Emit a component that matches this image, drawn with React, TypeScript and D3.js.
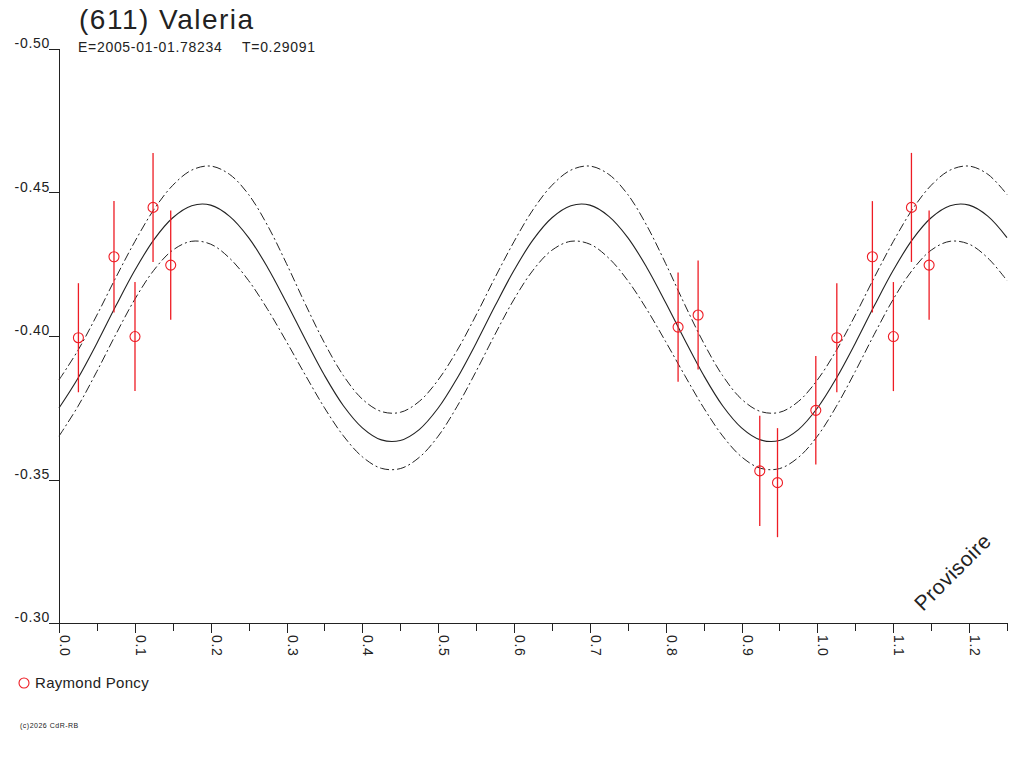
import * as d3 from 'd3';

const W = 1024;
const H = 768;

// rotational phase samples of the fitted curve
const phases = [
  0, 0.025, 0.05, 0.075, 0.1, 0.125, 0.15, 0.175, 0.2, 0.225,
  0.25, 0.275, 0.3, 0.325, 0.35, 0.375, 0.4, 0.425, 0.45, 0.475,
  0.5, 0.525, 0.55, 0.575, 0.6, 0.625, 0.65, 0.675, 0.7, 0.725,
  0.75, 0.775, 0.8, 0.825, 0.85, 0.875, 0.9, 0.925, 0.95, 0.975,
  1.0, 1.025, 1.05, 1.075, 1.1, 1.125, 1.15, 1.175, 1.2, 1.225, 1.25,
];

// fitted relative magnitude (solid line)
const fitMag = [
  -0.3749, -0.3853, -0.3975, -0.4105, -0.4229, -0.4335, -0.4412, -0.4454, -0.4456, -0.4417,
  -0.4343, -0.4239, -0.4116, -0.3987, -0.3863, -0.3757, -0.3680, -0.3638, -0.3636, -0.3674,
  -0.3749, -0.3853, -0.3975, -0.4105, -0.4229, -0.4335, -0.4412, -0.4454, -0.4456, -0.4417,
  -0.4343, -0.4239, -0.4116, -0.3987, -0.3863, -0.3757, -0.3680, -0.3638, -0.3636, -0.3674,
  -0.3749, -0.3853, -0.3975, -0.4105, -0.4229, -0.4335, -0.4412, -0.4454, -0.4456, -0.4417, -0.4343,
];

// upper / lower envelope (dash-dot lines)
const fitUpper = [
  -0.3847, -0.3950, -0.4073, -0.4204, -0.4329, -0.4440, -0.4525, -0.4578, -0.4592, -0.4563,
  -0.4493, -0.4385, -0.4252, -0.4110, -0.3976, -0.3862, -0.3780, -0.3737, -0.3734, -0.3772,
  -0.3847, -0.3950, -0.4073, -0.4204, -0.4329, -0.4440, -0.4525, -0.4578, -0.4592, -0.4563,
  -0.4493, -0.4385, -0.4252, -0.4110, -0.3976, -0.3862, -0.3780, -0.3737, -0.3734, -0.3772,
  -0.3847, -0.3950, -0.4073, -0.4204, -0.4329, -0.4440, -0.4525, -0.4578, -0.4592, -0.4563, -0.4493,
];
const fitLower = [
  -0.3651, -0.3755, -0.3877, -0.4006, -0.4128, -0.4229, -0.4299, -0.4330, -0.4320, -0.4271,
  -0.4193, -0.4093, -0.3980, -0.3863, -0.3750, -0.3652, -0.3579, -0.3539, -0.3538, -0.3577,
  -0.3651, -0.3755, -0.3877, -0.4006, -0.4128, -0.4229, -0.4299, -0.4330, -0.4320, -0.4271,
  -0.4193, -0.4093, -0.3980, -0.3863, -0.3750, -0.3652, -0.3579, -0.3539, -0.3538, -0.3577,
  -0.3651, -0.3755, -0.3877, -0.4006, -0.4128, -0.4229, -0.4299, -0.4330, -0.4320, -0.4271, -0.4193,
];

// observations (Raymond Poncy)
const obsPhase = [
  0.0256, 0.0725, 0.1002, 0.1240, 0.1473, 0.8163, 0.8427, 0.9240, 0.9474, 0.9979,
  1.0256, 1.0725, 1.1002, 1.1240, 1.1473,
];
const obsMag = [
  -0.3994, -0.4276, -0.3998, -0.4448, -0.4247, -0.4031, -0.4073, -0.3530, -0.3489, -0.3741,
  -0.3994, -0.4276, -0.3998, -0.4448, -0.4247,
];
const obsErr = [
  0.019, 0.0194, 0.019, 0.019, 0.019, 0.019, 0.019, 0.0192, 0.019, 0.0189,
  0.019, 0.0194, 0.019, 0.019, 0.019,
];

const yTicks = [-0.5, -0.45, -0.4, -0.35, -0.3];

const FONT = '"Liberation Sans", Arial, sans-serif';
const INK = '#222';
const RED = '#ee1c24';

export default function App() {
  const x = d3.scaleLinear().domain([0, 1.25]).range([59, 1007]);
  const y = d3.scaleLinear().domain([-0.5, -0.3]).range([49, 623]);

  const line = d3.line<[number, number]>()
    .x(d => x(d[0]))
    .y(d => y(d[1]))
    .curve(d3.curveCatmullRom.alpha(0.5));

  const solidPath = line(phases.map((p, i) => [p, fitMag[i]])) ?? '';
  const upperPath = line(phases.map((p, i) => [p, fitUpper[i]])) ?? '';
  const lowerPath = line(phases.map((p, i) => [p, fitLower[i]])) ?? '';

  const xTicks = x.ticks(25);
  const fmtX = d3.format('.1f');
  const x0 = x.range()[0];
  const x1 = x.range()[1];
  const yBottom = y(-0.3);

  return (
    <div style={{ position: 'absolute', left: 0, top: 0, width: W, height: H, background: '#fff' }}>
      <svg width={W} height={H} viewBox={`0 0 ${W} ${H}`} style={{ display: 'block' }} fontFamily={FONT}>
        <rect width={W} height={H} fill="#fff" />

        {/* title */}
        <text x={79} y={29} fontSize={28} letterSpacing={1.5} fill={INK}>(611) Valeria</text>
        <text x={78} y={52} fontSize={14} letterSpacing={0.7} fill={INK}>E=2005-01-01.78234</text>
        <text x={242} y={52} fontSize={14} letterSpacing={0.7} fill={INK}>T=0.29091</text>

        {/* axes */}
        <g shapeRendering="crispEdges" stroke={INK} strokeWidth={1}>
          <line x1={x0 + 0.5} x2={x0 + 0.5} y1={y(-0.5)} y2={yBottom} />
          {yTicks.map(t => (
            <line key={t} x1={x0 - 10} x2={x0 + 0.5} y1={Math.round(y(t)) + 0.5} y2={Math.round(y(t)) + 0.5} />
          ))}
          <line x1={x0} x2={x1 + 1} y1={Math.round(yBottom) + 0.5} y2={Math.round(yBottom) + 0.5} />
          {xTicks.map((t, i) => (
            <line key={t} x1={Math.round(x(t)) + 0.5} x2={Math.round(x(t)) + 0.5}
              y1={yBottom} y2={yBottom + (i % 2 === 0 ? 10 : 8)} />
          ))}
        </g>
        {yTicks.map(t => (
          <text key={t} x={50} y={y(t) - 1} textAnchor="end" fontSize={14} letterSpacing={0.7} fill={INK}>
            {t.toFixed(2)}
          </text>
        ))}
        {xTicks.filter((_, i) => i % 2 === 0).map(t => (
          <text key={t} transform={`translate(${x(t) + 1},635) rotate(90)`} fontSize={14}
            letterSpacing={0.7} fill={INK}>
            {fmtX(t)}
          </text>
        ))}

        {/* fitted curve and envelope */}
        <path d={upperPath} fill="none" stroke={INK} strokeWidth={1} strokeDasharray="9,3,2,3" />
        <path d={lowerPath} fill="none" stroke={INK} strokeWidth={1} strokeDasharray="9,3,2,3" />
        <path d={solidPath} fill="none" stroke={INK} strokeWidth={1.1} />

        {/* observations */}
        {obsPhase.map((p, i) => (
          <g key={i} stroke={RED} fill="none">
            <line x1={x(p)} x2={x(p)} y1={y(obsMag[i] - obsErr[i])} y2={y(obsMag[i] + obsErr[i])} strokeWidth={1.3} />
            <circle cx={x(p)} cy={y(obsMag[i])} r={5} strokeWidth={1.1} />
          </g>
        ))}

        {/* watermark */}
        <text transform="translate(923,612) rotate(-45)" fontSize={21} letterSpacing={0.5} fill={INK}>Provisoire</text>

        {/* legend */}
        <circle cx={24} cy={683} r={5} fill="none" stroke={RED} strokeWidth={1.1} />
        <text x={35} y={688} fontSize={15} letterSpacing={0.3} fill={INK}>Raymond Poncy</text>

        <text x={20} y={728} fontSize={7} letterSpacing={0.5} fill={INK}>(c)2026 CdR-RB</text>
      </svg>
    </div>
  );
}
